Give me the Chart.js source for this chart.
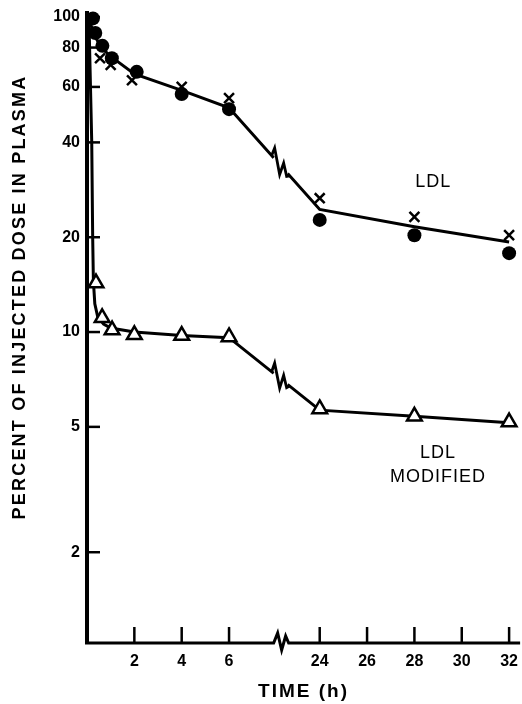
<!DOCTYPE html>
<html>
<head>
<meta charset="utf-8">
<script src="https://cdn.jsdelivr.net/npm/chart.js@4/dist/chart.umd.min.js"></script>
<style>
  html, body { margin: 0; padding: 0; background: #fff; }
  canvas { display: block; }
</style>
</head>
<body>
<canvas id="ldlChart" width="522" height="704"></canvas>
<script>
// broken time axis: 6 h jumps to 24 h
var BREAK_FROM = 6, BREAK_TO = 24, GAP = 3.83, BREAK_AT = 8.18;
function mapX(t) { return t <= BREAK_FROM ? t : t - BREAK_TO + BREAK_FROM + GAP; }

var xTickLabels = [2, 4, 6, 24, 26, 28, 30, 32];
var yTickLabels = [100, 80, 60, 40, 20, 10, 5, 2];

// LDL (filled dots, crosses and fitted curve)
var ldlDotTime = [0.25, 0.35, 0.65, 1.05, 2.1, 4, 6, 24, 28, 32];
var ldlDotValue = [99, 89, 81, 74, 67, 57, 51, 22.7, 20.3, 17.8];
var ldlCrossTime = [0.55, 1, 1.9, 4, 6, 24, 28, 32];
var ldlCrossValue = [74, 70.5, 63, 60, 55.3, 26.6, 23.2, 20.3];
var ldlFitTime = [0.05, 0.3, 0.6, 1, 2, 4, 6, 24, 28, 32];
var ldlFitValue = [100, 88, 80, 75, 66, 58.5, 51.5, 24.5, 21.6, 19.3];

// LDL modified (open triangles and fitted curve)
var modTime = [0.38, 0.64, 1.06, 2, 4, 6, 24, 28, 32];
var modValue = [14.3, 11.1, 10.15, 9.8, 9.75, 9.65, 5.7, 5.4, 5.18];
var modFitTime = [0.08, 0.2, 0.24, 0.27, 0.33, 0.45, 0.7, 1, 2, 4, 6, 24, 28, 32];
var modFitValue = [100, 40, 20, 14.5, 12.3, 11.2, 10.6, 10.3, 10, 9.75, 9.6, 5.65, 5.4, 5.15];

function pts(ts, vs) {
    return ts.map(function (t, i) { return { x: mapX(t), y: vs[i] }; });
}

var FONT = '"Liberation Sans", Arial, sans-serif';

function zig(ctx, cx, cy, slope, shape) {
    ctx.beginPath();
    shape.forEach(function (p, i) {
        var x = cx + p[0], y = cy + p[0] * slope + p[1];
        if (i) ctx.lineTo(x, y); else ctx.moveTo(x, y);
    });
    ctx.stroke();
}

var decor = {
    id: 'decor',
    afterDatasetsDraw: function (chart) {
        var ctx = chart.ctx, xs = chart.scales.x, ys = chart.scales.y;
        var a = chart.chartArea;
        var bx = xs.getPixelForValue(BREAK_AT);
        var axisEnd = xs.getPixelForValue(mapX(32)) + 11;
        ctx.save();
        ctx.strokeStyle = '#000';
        ctx.lineCap = 'butt';
        ctx.lineJoin = 'miter';

        // zigzag breaks on the fitted curves
        [0, 1].forEach(function (di) {
            var meta = chart.getDatasetMeta(di);
            var ts = di === 0 ? ldlFitTime : modFitTime;
            var p0 = meta.data[ts.indexOf(6)], p1 = meta.data[ts.indexOf(24)];
            var slope = (p1.y - p0.y) / (p1.x - p0.x);
            var cy = p0.y + (bx - p0.x) * slope;
            ctx.strokeStyle = '#fff';
            ctx.lineWidth = 5;
            ctx.beginPath();
            ctx.moveTo(bx - 7, cy - 7 * slope);
            ctx.lineTo(bx + 7, cy + 7 * slope);
            ctx.stroke();
            ctx.strokeStyle = '#000';
            ctx.lineWidth = 2.8;
            zig(ctx, bx, cy, slope, [[-9, 0], [-6, -11], [-1, 10], [3, -6], [6, 4], [9, 0]]);
        });

        // x axis with break
        ctx.lineWidth = 3;
        ctx.beginPath();
        ctx.moveTo(a.left - 2, a.bottom);
        ctx.lineTo(bx - 7, a.bottom);
        ctx.lineTo(bx - 3, a.bottom - 10);
        ctx.lineTo(bx + 1, a.bottom + 7);
        ctx.lineTo(bx + 5, a.bottom - 7);
        ctx.lineTo(bx + 8, a.bottom);
        ctx.lineTo(axisEnd, a.bottom);
        ctx.stroke();

        // inward tick marks
        ctx.lineWidth = 2.5;
        xTickLabels.forEach(function (t) {
            var x = xs.getPixelForValue(mapX(t));
            ctx.beginPath();
            ctx.moveTo(x, a.bottom);
            ctx.lineTo(x, a.bottom - 16);
            ctx.stroke();
        });
        yTickLabels.forEach(function (v) {
            var y = ys.getPixelForValue(v);
            ctx.beginPath();
            ctx.moveTo(a.left, y);
            ctx.lineTo(a.left + 13, y);
            ctx.stroke();
        });

        // curve labels
        ctx.fillStyle = '#000';
        ctx.textAlign = 'center';
        ctx.textBaseline = 'middle';
        ctx.font = '18px ' + FONT;
        ctx.letterSpacing = '1px';
        ctx.fillText('LDL', xs.getPixelForValue(mapX(28.8)), ys.getPixelForValue(29.9));
        ctx.fillText('LDL', xs.getPixelForValue(mapX(29)), ys.getPixelForValue(4.13));
        ctx.fillText('MODIFIED', xs.getPixelForValue(mapX(29)), ys.getPixelForValue(3.46));

        // axis titles
        ctx.font = 'bold 19px ' + FONT;
        ctx.letterSpacing = '2px';
        ctx.fillText('TIME (h)', (a.left + axisEnd) / 2, 692);
        ctx.font = 'bold 18px ' + FONT;
        ctx.letterSpacing = '2.2px';
        ctx.translate(20, 297);
        ctx.rotate(-Math.PI / 2);
        ctx.fillText('PERCENT OF INJECTED DOSE IN PLASMA', 0, 0);
        ctx.restore();
    }
};

var ctx = document.getElementById('ldlChart').getContext('2d');
new Chart(ctx, {
    type: 'scatter',
    data: {
        datasets: [{
            label: 'LDL fit',
            data: pts(ldlFitTime, ldlFitValue),
            showLine: true,
            borderColor: '#000',
            borderWidth: 3,
            pointRadius: 0,
            clip: false,
            order: 3
        }, {
            label: 'LDL modified fit',
            data: pts(modFitTime, modFitValue),
            showLine: true,
            borderColor: '#000',
            borderWidth: 3,
            pointRadius: 0,
            clip: false,
            order: 3
        }, {
            label: 'LDL dots',
            data: pts(ldlDotTime, ldlDotValue),
            pointStyle: 'circle',
            pointRadius: 7,
            backgroundColor: '#000',
            borderColor: '#000',
            borderWidth: 0,
            clip: false,
            order: 1
        }, {
            label: 'LDL crosses',
            data: pts(ldlCrossTime, ldlCrossValue),
            pointStyle: 'crossRot',
            pointRadius: 7,
            borderColor: '#000',
            borderWidth: 2.5,
            clip: false,
            order: 2
        }, {
            label: 'LDL modified',
            data: pts(modTime, modValue),
            pointStyle: 'triangle',
            pointRadius: 8.5,
            backgroundColor: '#fff',
            borderColor: '#000',
            borderWidth: 2.5,
            clip: false,
            order: 1
        }]
    },
    options: {
        responsive: false,
        animation: false,
        layout: { padding: { top: 13, right: 2, left: 0, bottom: 0 } },
        plugins: {
            legend: { display: false },
            tooltip: { enabled: false }
        },
        scales: {
            x: {
                type: 'linear',
                min: 0,
                max: 17.91,
                afterFit: function (s) {
                    s.height = 61;
                    s.paddingLeft = 0;
                    s.paddingRight = 0;
                },
                afterBuildTicks: function (s) {
                    s.ticks = xTickLabels.map(function (t) { return { value: mapX(t) }; });
                },
                ticks: {
                    padding: 9,
                    color: '#000',
                    font: { family: FONT, size: 16, weight: 'bold' },
                    callback: function (v) {
                        var t = v <= BREAK_FROM ? v : v - BREAK_FROM - GAP + BREAK_TO;
                        return String(Math.round(t));
                    }
                },
                grid: { display: false, drawTicks: false },
                border: { display: false }
            },
            y: {
                type: 'logarithmic',
                min: 1.03,
                max: 103,
                afterFit: function (s) {
                    s.width = 87;
                    s.paddingTop = 0;
                    s.paddingBottom = 0;
                },
                afterBuildTicks: function (s) {
                    s.ticks = yTickLabels.map(function (v) { return { value: v }; });
                },
                ticks: {
                    padding: 7,
                    color: '#000',
                    font: { family: FONT, size: 16, weight: 'bold' },
                    callback: function (v) { return String(v); }
                },
                grid: { display: false, drawTicks: false },
                border: { display: true, color: '#000', width: 4 }
            }
        }
    },
    plugins: [decor]
});
</script>
</body>
</html>
